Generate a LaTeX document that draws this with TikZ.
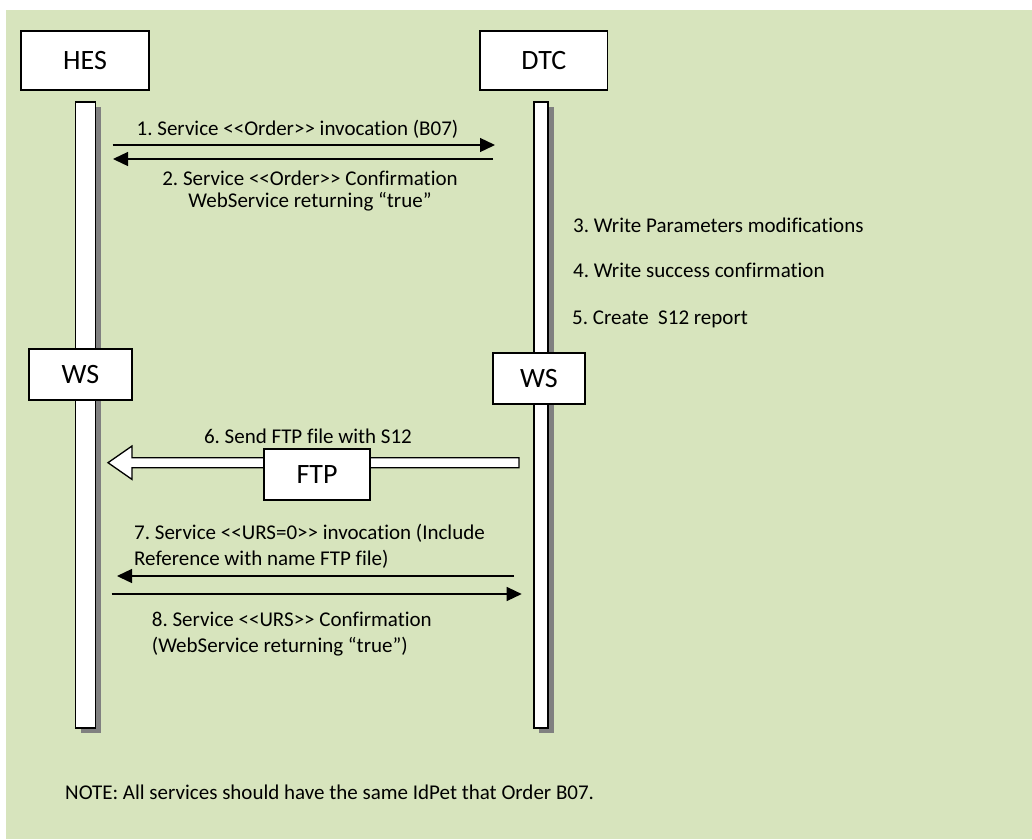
\documentclass[tikz,border=0pt]{standalone}
\usepackage{fontspec}
\setmainfont{Carlito}[Ligatures=NoCommon]
\usetikzlibrary{arrows.meta,calc}
\definecolor{panel}{HTML}{D7E4BD}
\definecolor{shadowgray}{HTML}{808080}
\frenchspacing

\begin{document}
\begin{tikzpicture}[x=1pt,y=-1pt,
  actor/.style={draw=black,line width=1.5pt,fill=white,inner sep=0pt,
    font=\fontsize{28}{30}\selectfont},
  lifeline/.style={draw=black,line width=1.5pt,fill=white,inner sep=0pt,minimum height=626pt},
  msg/.style={line width=1.3pt,-{Triangle[length=15pt,width=14pt]}},
  lbl/.style={font=\fontsize{21}{24}\selectfont,inner sep=0pt}
]
\useasboundingbox (0,0) rectangle (1032,839);
\fill[panel] (6,10) rectangle (1032,839);

% lifeline shadows
\fill[shadowgray] (80.5,107) rectangle (100.7,733);
\fill[shadowgray] (539,107) rectangle (553.5,733);

% lifelines
\node[lifeline,minimum width=20.4pt] (hesL) at (85.5,415) {};
\node[lifeline,minimum width=14pt] (dtcL) at (541,415) {};

% participants
\node[actor,minimum width=128pt,minimum height=59pt] (hes) at (85,60.4) {HES};
\node[actor,minimum width=127.7pt,minimum height=59pt] (dtc) at (543.8,60.4) {DTC};

% web service boxes on the lifelines
\node[actor,minimum width=103pt,minimum height=51pt] (wsL) at (80.5,374.5) {\raisebox{-4pt}{WS}};
\node[actor,minimum width=92pt,minimum height=51pt] (wsR) at (539,378.5) {\raisebox{-4pt}{WS}};

% message end points
\coordinate (m1s) at (112.7,145);
\coordinate (m1e) at (495,145);
\coordinate (m2s) at (493,159);
\coordinate (m2e) at (113,159);
\coordinate (m7s) at (514,576);
\coordinate (m7e) at (117,576);
\coordinate (m8s) at (111.7,594);
\coordinate (m8e) at (521.7,594);
\coordinate (ftpS) at (519,462.7);
\coordinate (ftpE) at (108,462.7);

% messages
\draw[msg] (m1s) -- (m1e);
\draw[msg] (m2s) -- (m2e);
\draw[msg] (m7s) -- (m7e);
\draw[msg] (m8s) -- (m8e);

% hollow FTP transfer arrow
\draw[line width=1.3pt,fill=white,line join=miter]
  ($(ftpS)+(0,-5)$) -- ($(ftpE)+(24,-5)$) -- ($(ftpE)+(24,-16.7)$) -- (ftpE)
  -- ($(ftpE)+(24,16.7)$) -- ($(ftpE)+(24,5)$) -- ($(ftpS)+(0,5)$) -- cycle;
\node[actor,minimum width=106pt,minimum height=51pt] (ftp) at (317,474.5) {\raisebox{-4pt}{FTP}};

% message labels
\node[lbl,anchor=base] (t1) at (297.5,135) {1. Service <{}<Order>{}> invocation (B07)};
\node[lbl,anchor=base] (t2a) at (310,185) {2. Service <{}<Order>{}> Confirmation};
\node[lbl,anchor=base] (t2b) at (310,207) {WebService returning “true”};
\node[lbl,anchor=base west] (t3) at (573,232) {3. Write Parameters modifications};
\node[lbl,anchor=base west] (t4) at (573,277) {4. Write success confirmation};
\node[lbl,anchor=base west] (t5) at (572,324) {5. Create\ \ S12 report};
\node[lbl,anchor=base] (t6) at (308,443) {6. Send FTP file with S12};
\node[lbl,anchor=base west] (t7a) at (134,539) {7. Service <{}<URS=0>{}> invocation (Include};
\node[lbl,anchor=base west] (t7b) at (134,565) {Reference with name FTP file)};
\node[lbl,anchor=base west] (t8a) at (151.7,626) {8. Service <{}<URS>{}> Confirmation};
\node[lbl,anchor=base west] (t8b) at (151.7,652) {(WebService returning “true”)};

% footnote
\node[lbl,anchor=base west] (note) at (65,799) {NOTE: All services should have the same IdPet that Order B07.};
\end{tikzpicture}
\end{document}
